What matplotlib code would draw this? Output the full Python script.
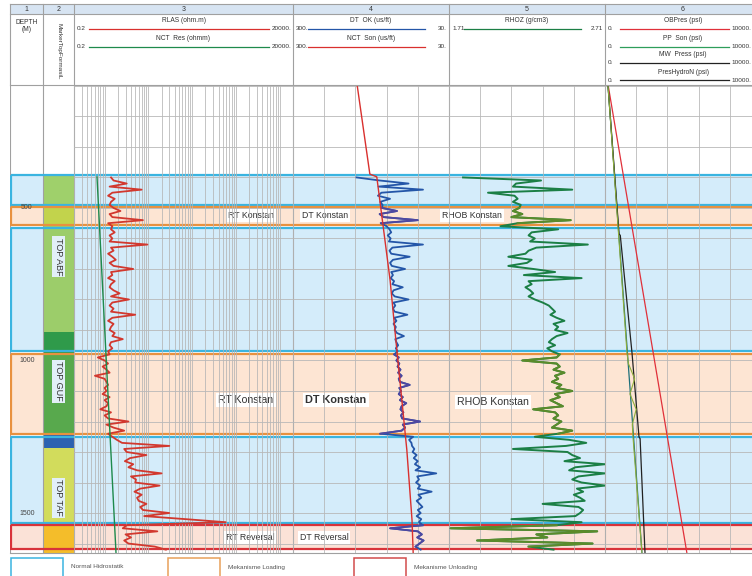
import numpy as np
import matplotlib.pyplot as plt
from matplotlib.patches import Rectangle
from matplotlib.ticker import LogLocator, NullFormatter

plt.rcParams['font.family'] = ['Liberation Sans', 'DejaVu Sans']

W, H = 752, 576
TOP_PX, BOT_PX = 85, 553
D_TOP, D_BOT = 97, 1631

# log curves sampled every 10 m (400 - 1620 m)
depth = np.arange(400, 1621, 10)
rlas = [1.4, 1.6, 3.2, 1.3, 7.0, 1.5, 1.2, 1.7, 1.4, 1.3,
        1.6, 2.3, 1.3, 1.5, 7.5, 1.2, 1.5, 1.4, 1.7, 1.3,
        1.5, 1.3, 9.5, 1.4, 1.6, 1.2, 1.5, 1.8, 1.3, 1.6,
        4.5, 1.4, 1.5, 1.2, 1.7, 1.4, 1.3, 1.6, 2.2, 1.4,
        3.6, 1.5, 1.3, 1.6, 1.4, 5.0, 1.5, 1.2, 1.6, 1.4,
        1.3, 1.7, 1.5, 2.6, 1.4, 1.3, 1.5, 1.2, 1.3, 0.7,
        1.0, 1.2, 0.9, 1.1, 1.3, 0.6, 1.0, 1.1, 1.2, 1.0,
        1.1, 0.9, 1.3, 1.0, 1.2, 1.1, 0.8, 1.4, 1.0, 1.2,
        3.5, 1.1, 1.6, 2.8, 1.2, 1.5, 1.9, 2.5, 30, 2.8,
        3.2, 9.0, 3.8, 2.9, 4.5, 3.5, 5.5, 20, 4.0, 5.2,
        5.0, 18, 6.5, 4.8, 7.0, 5.5, 6.0, 9.0, 6.5, 7.5,
        30, 8.0, 70, 580, 3.2, 2.6, 16, 3.0, 4.0, 2.8,
        3.5, 14, 25]
dt_ok = [190, 150, 100, 152, 75, 147, 153, 132, 149, 145,
         146, 120, 150, 143, 84, 148, 138, 133, 130, 136,
         131, 134, 75, 128, 133, 130, 98, 127, 132, 129,
         106, 130, 127, 131, 125, 128, 110, 126, 129, 124,
         100, 126, 123, 127, 124, 102, 125, 121, 126, 122,
         124, 120, 108, 123, 121, 118, 122, 119, 125, 117,
         121, 116, 119, 114, 118, 112, 117, 115, 98, 116,
         113, 117, 110, 115, 104, 112, 114, 109, 113, 111,
         80, 110, 106, 112, 149, 92, 99, 95, 94, 90,
         93, 86, 91, 84, 89, 80, 88, 52, 85, 82,
         87, 80, 84, 60, 83, 78, 86, 81, 76, 84,
         79, 86, 78, 82, 75, 132, 84, 77, 85, 74,
         81, 88, 79]
rhoz = [1.80, 2.30, 2.14, 2.12, 2.50, 1.96, 2.13, 2.15, 2.12, 2.17,
        2.16, 2.12, 2.18, 2.11, 2.49, 2.15, 2.04, 2.41, 2.24, 2.22,
        2.26, 2.23, 2.60, 2.27, 2.22, 2.20, 2.09, 2.24, 2.21, 2.09,
        2.25, 2.39, 2.19, 2.56, 2.22, 2.24, 2.20, 2.23, 2.25, 2.22,
        2.26, 2.31, 2.35, 2.37, 2.39, 2.36, 2.40, 2.45, 2.38, 2.41,
        2.39, 2.47, 2.40, 2.37, 2.35, 2.39, 2.34, 2.37, 2.42, 2.40,
        2.18, 2.40, 2.42, 2.38, 2.45, 2.39, 2.41, 2.37, 2.43, 2.40,
        2.50, 2.39, 2.42, 2.36, 2.40, 2.44, 2.25, 2.39, 2.41, 2.38,
        2.43, 2.40, 2.37, 2.50, 2.41, 2.26, 2.48, 2.59, 2.46, 2.12,
        2.47, 2.50, 2.55, 2.45, 2.71, 2.52, 2.48, 2.71, 2.54, 2.50,
        2.56, 2.71, 2.53, 2.57, 2.51, 2.55, 2.58, 2.31, 2.54, 2.57,
        2.55, 2.52, 2.11, 2.56, 2.40, 1.72, 2.66, 2.27, 2.34, 1.89,
        2.63, 2.22, 2.38]

# normal compaction trends
nct_res_depth = [398, 1631]
nct_res = [0.67, 1.82]
nct_son_depth = [97, 389, 398, 736, 933, 1293, 1523, 1631]
nct_son = [189, 167, 155, 132, 122, 103, 94, 92]

# pressures (psi)
ob_depth = [97, 1631]
ob_pres = [200, 5250]
pp_depth = [97, 975, 1010, 1060, 1110, 1160, 1210, 1251, 1631]
pp_son = [190, 1410, 1500, 1900, 1600, 2000, 1750, 1795, 2370]
mw_depth = [97, 585, 590, 975, 1251, 1256, 1631]
mw_pres = [190, 900, 980, 1731, 2180, 2250, 2564]
hyd_depth = [97, 1631]
hyd_pres = [190, 2370]

# interpretation zones
zone_top = [392, 497, 566, 978, 1251, 1539]
zone_bot = [490, 556, 970, 1241, 1533, 1617]
zone_kind = ['normal', 'loading', 'normal', 'loading', 'normal', 'unloading']

# formation column
form_top = [392, 493, 560, 905, 975, 1245, 1287, 1539]
form_bot = [493, 560, 905, 975, 1245, 1287, 1539, 1631]
form_color = ['#9fd06b', '#c2d34c', '#9ccd6a', '#2f9a4a', '#58a94d', '#2d62b0', '#d2dc5c', '#f4bd2a']
form_name = ['TOP ABF', 'TOP GUF', 'TOP TAF']
form_name_depth = [660, 1068, 1450]

zone_text = ['RT Konstan', 'DT Konstan', 'RHOB Konstan',
             'RT Konstan', 'DT Konstan', 'RHOB Konstan',
             'RT Reversal', 'DT Reversal']
zone_text_depth = [526, 526, 526, 1130, 1130, 1135, 1580, 1580]

# ---- layout ----
zone_style = {'normal': ('#d4ecfa', '#3ab4e0'),
              'loading': ('#fde5d3', '#e8913f'),
              'unloading': ('#fbe2d7', '#d8333a')}
text_x = [251, 325, 472, 246, 336, 493, 250, 324]
text_size = [6.3, 6.3, 6.3, 7.6, 7.8, 7.6, 6.3, 6.3]
text_weight = ['normal'] * 4 + ['semibold'] + ['normal'] * 3
tracks = [(10, 43), (43, 74), (74, 293), (293, 449), (449, 605), (605, 761)]

fig = plt.figure(figsize=(W / 100, H / 100), dpi=100)


def frect(x0, x1):
    return [x0 / W, 1 - BOT_PX / H, (x1 - x0) / W, (BOT_PX - TOP_PX) / H]


# background: zones, formation column, separators
bg = fig.add_axes(frect(10, 761), zorder=0)
bg.set_xlim(10, 761)
bg.set_ylim(D_BOT, D_TOP)
bg.axis('off')
for t, b, k in zip(zone_top, zone_bot, zone_kind):
    bg.add_patch(Rectangle((10, t), 751, b - t, facecolor=zone_style[k][0], edgecolor='none', zorder=1))
for t, b, c in zip(form_top, form_bot, form_color):
    bg.add_patch(Rectangle((43, t), 31, b - t, facecolor=c, edgecolor='none', zorder=2))
for x0, x1 in tracks:
    bg.axvline(x0, color='#a0a0a0', lw=0.8, zorder=2.5)
for t, b, k in zip(zone_top, zone_bot, zone_kind):
    bg.add_patch(Rectangle((10.6, t), 760, b - t, fill=False, edgecolor=zone_style[k][1], lw=1.6, zorder=3))
for d in [500, 1000, 1500]:
    bg.text(27, d, str(d), ha='center', va='center', fontsize=5, color='#444444', zorder=4)
for name, d in zip(form_name, form_name_depth):
    bg.text(58.5, d, name, rotation=270, ha='center', va='center', fontsize=6.5, color='#333333', zorder=4,
            bbox=dict(facecolor='#e2eff8', edgecolor='none', pad=1.2))
for s, x, d, fs, fw in zip(zone_text, text_x, zone_text_depth, text_size, text_weight):
    bg.text(x, d, s, ha='center', va='center', fontsize=fs, color='#333333', fontweight=fw, zorder=4,
            bbox=dict(facecolor='white', edgecolor='none', pad=1.5))

in_zone = np.zeros(len(depth), dtype=bool)
for t, b, k in zip(zone_top, zone_bot, zone_kind):
    if k != 'normal':
        in_zone |= (depth >= t) & (depth <= b)


def track(x0, x1):
    ax = fig.add_axes(frect(x0, x1), zorder=1)
    ax.set_facecolor('none')
    ax.set_ylim(D_BOT, D_TOP)
    for s in ax.spines.values():
        s.set_visible(False)
    ax.set_yticks(np.arange(100, 1700, 100))
    ax.grid(axis='y', color='#b8b8b8', lw=0.6)
    ax.grid(axis='x', which='both', color='#b4b4b4', lw=0.55)
    ax.tick_params(which='both', length=0, labelbottom=False, labelleft=False)
    return ax


# track 3 - resistivity
ax3 = track(74, 293)
ax3.set_xscale('log')
ax3.set_xlim(0.2, 20000)
ax3.xaxis.set_major_locator(LogLocator(base=10, subs=(1.0,)))
ax3.xaxis.set_minor_locator(LogLocator(base=10, subs=np.arange(2, 10)))
ax3.xaxis.set_minor_formatter(NullFormatter())
ax3.plot(rlas, depth, color='#d2382e', lw=1.3, zorder=3)
ax3.plot(nct_res, nct_res_depth, color='#1e8a4c', lw=1.0, zorder=4)

# track 4 - sonic
ax4 = track(293, 449)
ax4.set_xlim(300, 30)
ax4.set_xticks(np.linspace(300, 30, 6))
ax4.plot(dt_ok, depth, color='#2456a8', lw=1.3, zorder=3)
ax4.plot(np.where(in_zone, dt_ok, np.nan), depth, color='#4f47a0', lw=1.3, zorder=3)
ax4.plot(nct_son, nct_son_depth, color='#d9302e', lw=1.0, zorder=4)

# track 5 - density
ax5 = track(449, 605)
ax5.set_xlim(1.71, 2.71)
ax5.set_xticks(np.linspace(1.71, 2.71, 6))
ax5.plot(rhoz, depth, color='#1b7f45', lw=1.4, zorder=3)
ax5.plot(np.where(in_zone, rhoz, np.nan), depth, color='#5b8b2a', lw=1.4, zorder=3)

# track 6 - pressures
ax6 = track(605, 761)
ax6.set_xlim(0, 10000)
ax6.set_xticks(np.linspace(0, 10000, 6))
ax6.plot(ob_pres, ob_depth, color='#e0303a', lw=0.9, zorder=3)
ax6.plot(hyd_pres, hyd_depth, color='#1d6f7a', lw=0.9, zorder=3)
ax6.plot(mw_pres, mw_depth, color='#222222', lw=0.9, zorder=3)
ax6.plot(pp_son, pp_depth, color='#8fae3a', lw=0.8, zorder=3)

# ---- header and legend, pixel coordinates ----
ov = fig.add_axes([0, 0, 1, 1], zorder=2)
ov.set_xlim(0, W)
ov.set_ylim(H, 0)
ov.axis('off')
ov.add_patch(Rectangle((10, 4), 752, 10, facecolor='#d7e4f2', edgecolor='none'))
for y in [4, 14, 85, 553]:
    ov.plot([10, 752], [y, y], color='#a0a0a0', lw=0.8)
for i, (x0, x1) in enumerate(tracks):
    ov.plot([x0, x0], [4, 85], color='#a0a0a0', lw=0.8)
    ov.text((x0 + min(x1, 761)) / 2, 9.5, str(i + 1), ha='center', va='center', fontsize=5, color='#333333')
ov.text(27, 26, 'DEPTH\n(M)', ha='center', va='center', fontsize=4.8, color='#333333', linespacing=1.1)
ov.text(58.5, 51, 'MarkerTopFormasiL', rotation=270, ha='center', va='center', fontsize=4.6, color='#333333')

headers = [
    (74, 293, 291, '0.2', '20000.', [('RLAS (ohm.m)', '#d9302e'), ('NCT  Res (ohmm)', '#1e8a4c')]),
    (293, 449, 447, '300.', '30.', [('DT  OK (us/ft)', '#2456a8'), ('NCT  Son (us/ft)', '#d9302e')]),
    (449, 605, 603, '1.71', '2.71', [('RHOZ (g/cm3)', '#1b7f45')]),
    (605, 761, 751, '0.', '10000.', [('OBPres (psi)', '#e0303a'), ('PP  Son (psi)', '#2e9e5a'),
                                    ('MW  Press (psi)', '#222222'), ('PresHydroN (psi)', '#222222')]),
]
line_y = [29, 47, 63, 80]
for x0, x1, xr, lo, hi, curves in headers:
    for (name, col), ly in zip(curves, line_y):
        ov.text((x0 + x1) / 2, ly - 8, name, ha='center', va='center', fontsize=4.8, color='#333333')
        ov.plot([x0 + 15, xr - 22], [ly, ly], color=col, lw=0.9)
        ov.text(x0 + 3, ly, lo, ha='left', va='center', fontsize=4.6, color='#333333')
        ov.text(xr, ly, hi, ha='right', va='center', fontsize=4.6, color='#333333')

legend_items = [(11, 'Normal Hidrostatik', '#3ab4e0'),
                (168, 'Mekanisme Loading', '#e8a05a'),
                (354, 'Mekanisme Unloading', '#d24b4b')]
for x, label, col in legend_items:
    ov.add_patch(Rectangle((x, 557.5), 52, 22, facecolor='white', edgecolor=col, lw=1.1))
    ov.text(x + 60, 567, label, ha='left', va='center', fontsize=4.6, color='#555555')

fig.savefig('out.png', dpi=100)
